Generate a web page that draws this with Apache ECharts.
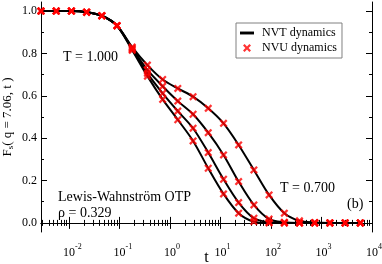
<!DOCTYPE html>
<html><head><meta charset="utf-8">
<script src="https://cdn.jsdelivr.net/npm/echarts@6/dist/echarts.min.js"></script>
<style>html,body{margin:0;padding:0;background:#fff}#c{width:382px;height:264px}</style>
</head><body><div id="c"></div>
<script>
// ---- data ----
const times = [0.0028, 0.0056, 0.0112, 0.0224, 0.0448, 0.0896, 0.179, 0.358, 0.717, 1.43, 2.87, 5.73, 11.5, 22.9, 45.9, 91.8, 184, 367, 734, 1468, 2936, 5872];
const fsShort = [1.0, 1.0, 1.0, 0.995, 0.978, 0.931];
const fsT0700 = [0.830, 0.745, 0.677, 0.635, 0.596, 0.541, 0.470, 0.368, 0.250, 0.132, 0.046, 0.010, 0.002, 0, 0, 0];
const fsT0800 = [0.825, 0.722, 0.645, 0.575, 0.513, 0.426, 0.321, 0.195, 0.085, 0.018, 0.003, 0, 0, 0, 0, 0];
const fsT0900 = [0.820, 0.706, 0.612, 0.528, 0.447, 0.332, 0.206, 0.096, 0.022, 0.003, 0, 0, 0, 0, 0, 0];
const fsT1000 = [0.815, 0.693, 0.583, 0.487, 0.387, 0.258, 0.137, 0.046, 0.006, 0, 0, 0, 0, 0, 0, 0];
const xMajorTicks = [0.01, 0.1, 1, 10, 100, 1000, 10000];
const yMajorTicks = [0, 0.2, 0.4, 0.6, 0.8, 1.0];
const yMinorTicks = [0.1, 0.3, 0.5, 0.7, 0.9];
const seriesNames = ['NVT dynamics', 'NVU dynamics'];

// ---- chart ----
const FONT = 'Liberation Serif';
const XMIN = 0.0028, XMAX = 10000, YMIN = -0.043, YMAX = 1.043;
const xMinorTicks = [];
for (let n = -3; n <= 3; n++) for (let m = 2; m <= 9; m++) {
  const v = m * Math.pow(10, n);
  if (v > XMIN && v < XMAX) xMinorTicks.push(v);
}
const curves = [fsT0700, fsT0800, fsT0900, fsT1000].map(c => fsShort.concat(c));
const pts = c => times.map((t, i) => [t, c[i]]);
const XSHAPE = 'path://M2,0 L5,3 L8,0 L10,2 L7,5 L10,8 L8,10 L5,7 L2,10 L0,8 L3,5 L0,2 Z';
const LSHAPE = 'path://M0,0 L12,0 L12,2.5 L0,2.5 Z';

function xAx(pos, ticks, len, line, labels) {
  const a = {type: 'log', logBase: 10, min: XMIN, max: XMAX, position: pos, gridIndex: 0,
    axisLine: {show: line, lineStyle: {color: '#000', width: 1}},
    axisTick: {show: true, inside: true, length: len, customValues: ticks, lineStyle: {color: '#000', width: 1}},
    axisLabel: {show: false}, splitLine: {show: false}, minorTick: {show: false}};
  if (labels) {
    a.axisLabel = {show: true, customValues: xMajorTicks, margin: 11, color: '#000',
      fontFamily: FONT, fontSize: 12,
      formatter: v => { const e = Math.round(Math.log10(v)); return '{p' + (e < 0 ? '2' : '1') + '| }{b|10}{s|' + e + '}'; },
      rich: {b: {fontFamily: FONT, fontSize: 12, color: '#000', lineHeight: 16, verticalAlign: 'bottom'},
             s: {fontFamily: FONT, fontSize: 8, color: '#000', lineHeight: 16, verticalAlign: 'top'},
             p1: {width: 4, fontSize: 8}, p2: {width: 7, fontSize: 8}}};
    a.name = 't'; a.nameLocation = 'middle'; a.nameGap = 18; a.nameMoveOverlap = false;
    a.nameTextStyle = {fontFamily: FONT, fontSize: 16, color: '#000'};
  }
  return a;
}
function yAx(pos, ticks, len, line, labels) {
  const a = {type: 'value', min: YMIN, max: YMAX, position: pos, gridIndex: 0,
    axisLine: {show: line, lineStyle: {color: '#000', width: 1}},
    axisTick: {show: true, inside: true, length: len, customValues: ticks, lineStyle: {color: '#000', width: 1}},
    axisLabel: {show: false}, splitLine: {show: false}, minorTick: {show: false}};
  if (labels) {
    a.axisLabel = {show: true, customValues: yMajorTicks, margin: 4, color: '#000',
      fontFamily: FONT, fontSize: 12, formatter: v => v.toFixed(1)};
    a.name = 'F{sub|s}( q = 7.06, t )'; a.nameLocation = 'middle'; a.nameGap = 26; a.nameMoveOverlap = false;
    a.nameTextStyle = {fontFamily: FONT, fontSize: 13, color: '#000',
      rich: {sub: {fontFamily: FONT, fontSize: 9, color: '#000', verticalAlign: 'bottom', padding: [6, 0, 0, 0]}}};
  }
  return a;
}

const series = [];
curves.forEach(c => series.push({name: seriesNames[0], type: 'line', data: pts(c), symbol: 'none',
  smooth: 0.3, lineStyle: {color: '#000', width: 2}, itemStyle: {color: '#000'}, z: 2}));
curves.forEach(c => series.push({name: seriesNames[1], type: 'scatter', data: pts(c), symbol: XSHAPE,
  symbolSize: 8, itemStyle: {color: '#ff0000'}, clip: false, z: 3}));

const chart = echarts.init(document.getElementById('c'), null, {renderer: 'canvas'});
chart.setOption({
  animation: false,
  backgroundColor: '#fff',
  grid: {left: 41, right: 10, top: 2, bottom: 32, outerBoundsMode: 'none', containLabel: false},
  xAxis: [xAx('bottom', xMajorTicks, 6, true, true), xAx('bottom', xMinorTicks, 3, false, false),
          xAx('top', xMajorTicks, 6, true, false), xAx('top', xMinorTicks, 3, false, false)],
  yAxis: [yAx('left', yMajorTicks, 6, true, true), yAx('left', yMinorTicks, 3, false, false),
          yAx('right', yMajorTicks, 6, true, false), yAx('right', yMinorTicks, 3, false, false)],
  legend: {left: 236, top: 23, orient: 'vertical',
    data: [{name: seriesNames[0], icon: LSHAPE}, {name: seriesNames[1], icon: XSHAPE}],
    borderColor: '#808080', borderWidth: 1, borderRadius: 0, padding: [4, 5, 4, 4],
    itemWidth: 14, itemHeight: 8, itemGap: 3, backgroundColor: '#fff',
    textStyle: {fontFamily: FONT, fontSize: 12, color: '#000', padding: [0, 0, 0, 3]}},
  graphic: [
    {type: 'text', left: 63, top: 50, style: {text: 'T = 1.000', font: '14px "Liberation Serif"', fill: '#000'}},
    {type: 'text', left: 280, top: 181, style: {text: 'T = 0.700', font: '14px "Liberation Serif"', fill: '#000'}},
    {type: 'text', left: 347, top: 197, style: {text: '(b)', font: '14px "Liberation Serif"', fill: '#000'}},
    {type: 'text', left: 58, top: 190, style: {text: 'Lewis-Wahnström OTP', font: '14px "Liberation Serif"', fill: '#000'}},
    {type: 'text', left: 58, top: 206, style: {text: 'ρ = 0.329', font: '14px "Liberation Serif"', fill: '#000'}}
  ],
  series: series
});
</script></body></html>
